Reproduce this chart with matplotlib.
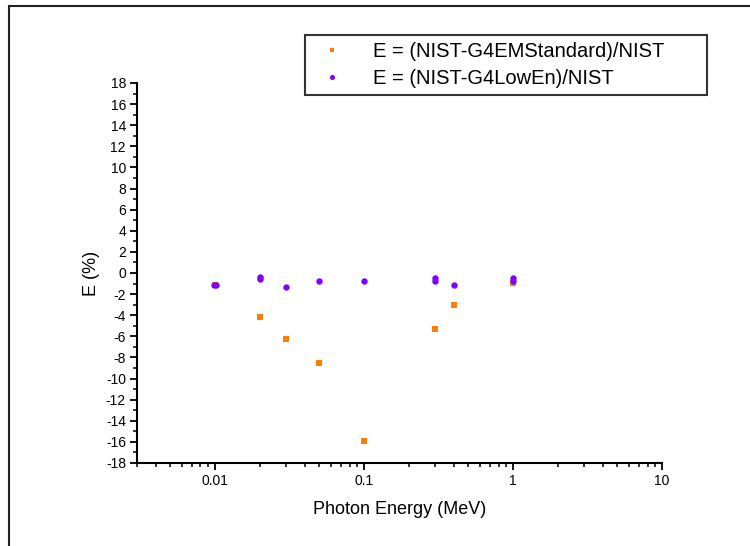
import numpy as np
import matplotlib
matplotlib.use('Agg')
import matplotlib.pyplot as plt
from matplotlib.patches import Rectangle
from matplotlib.ticker import FixedLocator, MultipleLocator, LogLocator, NullFormatter

plt.rcParams['font.family'] = ['Liberation Sans', 'DejaVu Sans']
plt.rcParams['axes.unicode_minus'] = False

# photon energy (MeV) and relative differences (%)
energy_std = [0.01, 0.02, 0.03, 0.05, 0.1, 0.3, 0.4, 1.0]
err_std = [-1.1, -4.2, -6.25, -8.5, -15.9, -5.3, -3.0, -0.9]

energy_low = [0.0099, 0.0101, 0.02, 0.02, 0.03, 0.05, 0.1, 0.3, 0.3, 0.4, 1.0, 1.0]
err_low = [-1.15, -1.1, -0.35, -0.6, -1.3, -0.76, -0.76, -0.5, -0.8, -1.14, -0.5, -0.8]

label_std = 'E = (NIST-G4EMStandard)/NIST'
label_low = 'E = (NIST-G4LowEn)/NIST'

fig = plt.figure(figsize=(7.5, 5.46), dpi=100)
ax = fig.add_axes([137/750, 1-463/546, (662-137)/750, (463-83)/546])

ax.plot(energy_std, err_std, 's', color='#FF8000', markersize=4.2, markeredgewidth=0, label=label_std)
ax.plot(energy_low, err_low, 'o', color='#8000FF', markersize=4.6, markeredgewidth=0, label=label_low)

ax.set_xscale('log')
ax.set_xlim(0.003, 10)
ax.set_ylim(-18, 18)
ax.xaxis.set_major_locator(FixedLocator([0.01, 0.1, 1, 10]))
ax.set_xticklabels(['0.01', '0.1', '1', '10'])
ax.xaxis.set_minor_locator(LogLocator(base=10, subs=np.arange(2, 10)))
ax.xaxis.set_minor_formatter(NullFormatter())
ax.yaxis.set_major_locator(MultipleLocator(2))
ax.yaxis.set_minor_locator(MultipleLocator(1))

for s in ['top', 'right']:
    ax.spines[s].set_visible(False)
for s in ['left', 'bottom']:
    ax.spines[s].set_linewidth(1.5)
ax.tick_params(which='major', direction='out', length=5, width=1.3, labelsize=10, pad=3)
ax.tick_params(which='minor', direction='out', length=3, width=1.1)

ax.set_xlabel('Photon Energy (MeV)', fontsize=13, labelpad=9)
ax.set_ylabel('E (%)', fontsize=13, labelpad=4)

leg = fig.legend(loc='upper left', bbox_to_anchor=(305/750, 1-98/546, 402/750, 63/546),
                 mode='expand', fontsize=14.5, frameon=True, fancybox=False,
                 markerscale=0.8, handlelength=2.0, handletextpad=1.05,
                 borderpad=0.35, labelspacing=0.4, borderaxespad=0)
leg.get_frame().set_edgecolor('black')
leg.get_frame().set_linewidth(1.5)

# outer frame around the figure
fig.patches.append(Rectangle((9/750, -0.1), 1.2, 1-6/546+0.1, transform=fig.transFigure,
                             fill=False, edgecolor='#222222', linewidth=1.5))

fig.savefig('out.png', dpi=100)
